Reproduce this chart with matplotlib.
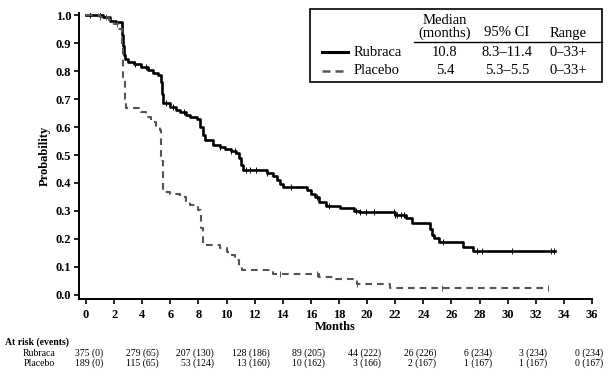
import numpy as np
import matplotlib
matplotlib.use('Agg')
import matplotlib.pyplot as plt
from matplotlib.lines import Line2D
from matplotlib.patches import Rectangle
from matplotlib.transforms import blended_transform_factory

plt.rcParams['font.family'] = ['Liberation Serif', 'DejaVu Serif']

# Kaplan-Meier steps (months, probability)
rub_t = [0, 1.2, 1.7, 2.1, 2.55, 2.62, 2.7, 2.78, 3.0, 3.4, 3.9, 4.4, 4.8, 5.1,
         5.3, 5.4, 5.5, 6.0, 6.4, 6.7, 7.1, 7.4, 7.9, 8.1, 8.3, 8.5, 9.0, 9.5,
         9.9, 10.3, 10.7, 10.9, 11.0, 11.2, 12.9, 13.3, 13.6, 13.8, 14.0, 15.7,
         16.0, 16.3, 16.6, 17.1, 18.1, 19.1, 19.4, 22.0, 22.8, 23.2, 24.5,
         24.6, 24.75, 25.1, 26.8, 27.5]
rub_s = [1.0, 0.993, 0.98, 0.975, 0.93, 0.89, 0.86, 0.845, 0.835, 0.825, 0.815,
         0.805, 0.795, 0.785, 0.76, 0.72, 0.686, 0.672, 0.663, 0.654, 0.645,
         0.636, 0.628, 0.60, 0.57, 0.553, 0.535, 0.528, 0.52, 0.513, 0.506,
         0.49, 0.465, 0.446, 0.436, 0.425, 0.41, 0.395, 0.386, 0.375, 0.36,
         0.35, 0.33, 0.317, 0.31, 0.30, 0.294, 0.285, 0.274, 0.256, 0.235,
         0.215, 0.202, 0.188, 0.17, 0.156]
rub_end = 33.4
rub_cens = [0.3, 1.0, 3.5, 4.3, 5.7, 6.2, 7.0, 9.5, 10.3, 10.6, 11.4, 11.7, 12.1,
            12.9, 14.6, 16.4, 17.3, 19.2, 19.5, 19.9, 20.5, 21.9, 22.0, 22.1,
            22.4, 22.6, 25.4, 27.8, 28.2, 30.3, 33.1, 33.3]

pla_t = [0, 1.0, 1.6, 2.0, 2.3, 2.55, 2.65, 2.75, 2.85, 3.9, 4.3, 4.6, 5.0,
         5.25, 5.35, 5.45, 6.0, 6.7, 7.1, 7.4, 8.0, 8.15, 8.3, 9.5, 10.0, 10.3,
         10.6, 10.9, 11.1, 13.3, 16.6, 17.6, 19.3, 21.6]
pla_s = [1.0, 0.993, 0.985, 0.97, 0.95, 0.88, 0.78, 0.70, 0.668, 0.654, 0.635,
         0.62, 0.60, 0.59, 0.48, 0.367, 0.36, 0.35, 0.335, 0.32, 0.303, 0.24,
         0.177, 0.165, 0.152, 0.14, 0.125, 0.10, 0.087, 0.073, 0.064, 0.056,
         0.036, 0.024]
pla_end = 32.9
pla_cens = [1.0, 1.4, 2.2, 13.8, 16.4, 19.3, 25.3, 32.9]

risk_months = [0, 4, 8, 12, 16, 20, 24, 28, 32, 36]
rub_risk = ['375 (0)', '279 (65)', '207 (130)', '128 (186)', '89 (205)',
            '44 (222)', '26 (226)', '6 (234)', '3 (234)', '0 (234)']
pla_risk = ['189 (0)', '115 (65)', '53 (124)', '13 (160)', '10 (162)',
            '3 (166)', '2 (167)', '1 (167)', '1 (167)', '0 (167)']

legend_rows = [
    ('Rubraca', '10.8', '8.3\u201311.4', '0\u201333+'),
    ('Placebo', '5.4', '5.3\u20135.5', '0\u201333+'),
]

fig = plt.figure(figsize=(6.12, 3.77), dpi=100)
ax = fig.add_axes([79 / 612, 1 - 299 / 377, 513 / 612, 286.3 / 377])

rub_color = 'black'
pla_color = '#555555'


def km(ax, t, s, end, cens, **kw):
    tt = np.append(t, end)
    ss = np.append(s, s[-1])
    ax.step(tt, ss, where='post', **kw)
    idx = np.searchsorted(t, cens, side='right') - 1
    ax.plot(cens, np.array(s)[idx], linestyle='none', marker='|',
            markersize=5, markeredgewidth=0.7, color=kw['color'])


km(ax, rub_t, rub_s, rub_end, rub_cens, color=rub_color, lw=1.9)
km(ax, pla_t, pla_s, pla_end, pla_cens, color=pla_color, lw=1.5,
   dashes=(3.2, 2.4))

ax.set_xlim(-0.5, 36)
ax.set_ylim(-0.016, 1.01)
ax.set_xticks(range(0, 37, 2))
ax.set_yticks(np.arange(0, 1.01, 0.1))
ax.set_yticklabels([f'{v:.1f}' for v in np.arange(0, 1.01, 0.1)])
for side in ['top', 'right']:
    ax.spines[side].set_visible(False)
for side in ['left', 'bottom']:
    ax.spines[side].set_linewidth(1.4)
ax.tick_params(axis='both', direction='out', length=3.5, width=1.2,
               labelsize=9, pad=2)
ax.tick_params(axis='x', pad=4)
for lab in ax.get_xticklabels() + ax.get_yticklabels():
    lab.set_fontweight('bold')

fig.text(45 / 612, 1 - 155.5 / 377, 'Probability', rotation=90, ha='center',
         va='center', fontsize=9, fontweight='bold')
fig.text(335.5 / 612, 1 - 327 / 377, 'Months', ha='center', va='center',
         fontsize=9, fontweight='bold')

# at risk table
tr = blended_transform_factory(ax.transData, fig.transFigure)
fig.text(5 / 612, 1 - 342 / 377, 'At risk (events)', ha='left', va='center',
         fontsize=7, fontweight='bold')
fig.text(39 / 612, 1 - 353 / 377, 'Rubraca', ha='center', va='center',
         fontsize=7)
fig.text(39 / 612, 1 - 363 / 377, 'Placebo', ha='center', va='center',
         fontsize=7)
for m, r, p in zip(risk_months, rub_risk, pla_risk):
    xr = m + 1.2 - m * 0.012
    fig.text(xr, 1 - 353 / 377, r, ha='right', va='center', fontsize=7,
             transform=tr)
    fig.text(xr, 1 - 363 / 377, p, ha='right', va='center', fontsize=7,
             transform=tr)

# legend box with medians
W, H = 612, 377
fig.patches.append(Rectangle((310 / W, 1 - 82 / H), 292 / W, 73 / H,
                             transform=fig.transFigure, fill=False,
                             edgecolor='black', lw=1.2))
fs = 10.5
fig.text(445 / W, 1 - 21 / H, 'Median', ha='center', va='center', fontsize=fs)
fig.text(445 / W, 1 - 33 / H, '(months)', ha='center', va='center', fontsize=fs)
fig.text(507 / W, 1 - 33 / H, '95% CI', ha='center', va='center', fontsize=fs)
fig.text(568 / W, 1 - 33 / H, 'Range', ha='center', va='center', fontsize=fs)
fig.lines.append(Line2D([414 / W, 602 / W], [1 - 42 / H, 1 - 42 / H],
                        transform=fig.transFigure, color='black', lw=1.0))
styles = [dict(color=rub_color, lw=2.2),
          dict(color=pla_color, lw=1.8, dashes=(3.2, 2.0))]
for i, (row, st) in enumerate(zip(legend_rows, styles)):
    y = 1 - (52 + 19 * i) / H
    fig.lines.append(Line2D([322 / W, 348 / W], [y, y],
                            transform=fig.transFigure, **st))
    fig.text(354 / W, y, row[0], ha='left', va='center', fontsize=fs)
    for xc, val in zip([445, 507, 568], row[1:]):
        fig.text(xc / W, y, val, ha='center', va='center', fontsize=fs)

fig.savefig('out.png', dpi=100)
